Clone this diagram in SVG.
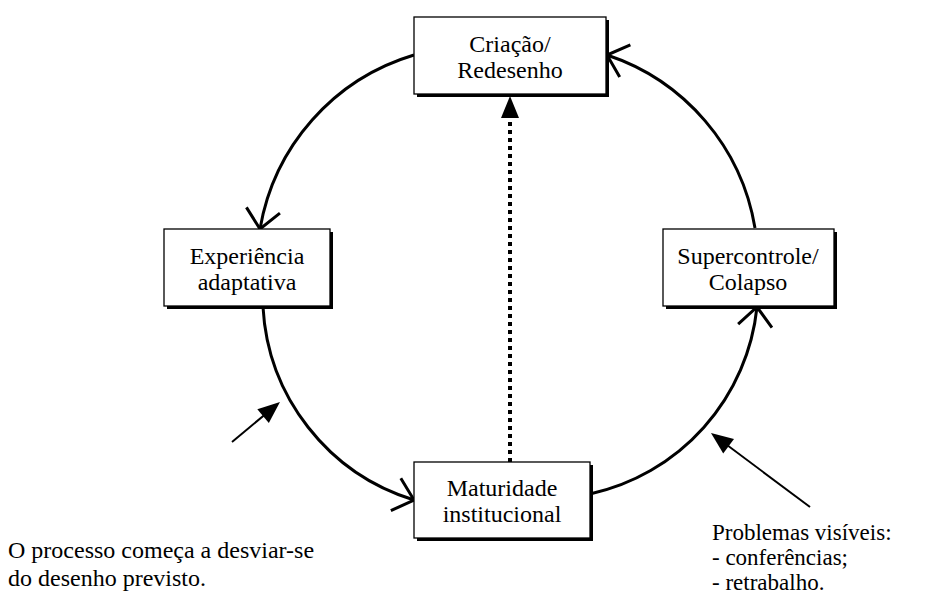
<svg xmlns="http://www.w3.org/2000/svg" width="949" height="596" viewBox="0 0 949 596">
<style>
.box{fill:#fff;stroke:#000;stroke-width:1.3}
.sh{fill:#000}
.t{font-family:"Liberation Serif","Times New Roman","DejaVu Serif",Times,serif;font-size:24px;fill:#000}
.c{text-anchor:middle}
.arc{fill:none;stroke:#000;stroke-width:3;marker-end:url(#chev)}
.call{fill:none;stroke:#000;stroke-width:2;marker-end:url(#tri)}
</style>
<defs>
<marker id="chev" markerUnits="userSpaceOnUse" orient="auto" refX="0" refY="0" markerWidth="60" markerHeight="60" viewBox="-30 -30 60 60" overflow="visible">
<path d="M-19,-17 L0,0 L-19,17" fill="none" stroke="#000" stroke-width="3"/>
</marker>
<marker id="tri" markerUnits="userSpaceOnUse" orient="auto" refX="0" refY="0" markerWidth="60" markerHeight="60" viewBox="-30 -30 60 60" overflow="visible">
<path d="M10,0 L-12,-9 L-12,9 Z" fill="#000"/>
</marker>
</defs>
<g id="connectors">
<path class="arc" d="M414,55 A220,220 0 0 0 260,229"/>
<path class="arc" d="M755,228 A220,220 0 0 0 607,55"/>
<path class="arc" d="M263,307 A214,214 0 0 0 414,500"/>
<path class="arc" d="M590,494 A214,214 0 0 0 757,307"/>
<path d="M510,462 L510,106" fill="none" stroke="#000" stroke-width="4" stroke-dasharray="4 4" marker-end="url(#tri)"/>
<path class="call" d="M232,442 L272.3,408.4"/>
<path class="call" d="M810,507 L719,439"/>
</g>
<g id="n-criacao" class="t">
<rect class="sh" x="417" y="20" width="192" height="77"/>
<rect class="box" x="414" y="17" width="192" height="77"/>
<text class="c" x="510" y="52">Criação/</text>
<text class="c" x="510" y="78">Redesenho</text>
</g>
<g id="n-experiencia" class="t">
<rect class="sh" x="167" y="232" width="166" height="77"/>
<rect class="box" x="164" y="229" width="166" height="77"/>
<text class="c" x="247" y="264">Experiência</text>
<text class="c" x="247" y="290">adaptativa</text>
</g>
<g id="n-supercontrole" class="t">
<rect class="sh" x="666" y="232" width="171" height="77"/>
<rect class="box" x="663" y="229" width="171" height="77"/>
<text class="c" x="748" y="264">Supercontrole/</text>
<text class="c" x="748" y="290">Colapso</text>
</g>
<g id="n-maturidade" class="t">
<rect class="sh" x="417" y="465" width="176" height="76"/>
<rect class="box" x="414" y="462" width="176" height="76"/>
<text class="c" x="502" y="496">Maturidade</text>
<text class="c" x="502" y="522">institucional</text>
</g>
<g id="label-left" class="t">
<text x="8" y="558">O processo começa a desviar-se</text>
<text x="8" y="586">do desenho previsto.</text>
</g>
<g id="label-right" class="t" font-size="23">
<text x="712" y="540" style="font-size:23px">Problemas visíveis:</text>
<text x="712" y="565" style="font-size:23px">- conferências;</text>
<text x="712" y="590" style="font-size:23px">- retrabalho.</text>
</g>
</svg>
